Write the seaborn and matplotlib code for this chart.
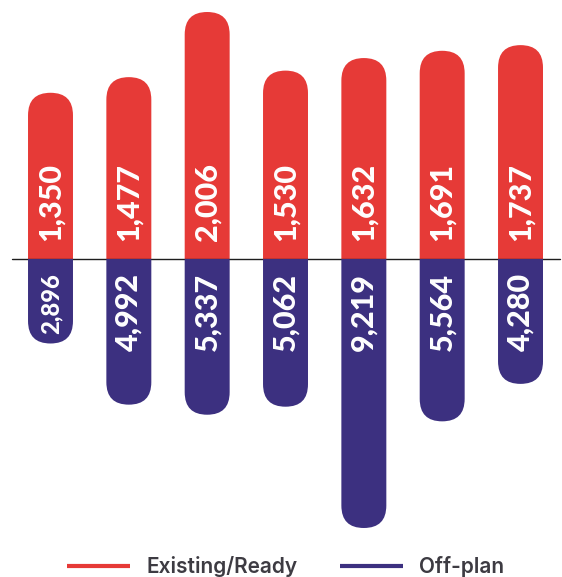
import matplotlib
matplotlib.use("Agg")
import matplotlib.pyplot as plt
import seaborn as sns
import pandas as pd
from matplotlib.patches import FancyBboxPatch
from matplotlib.lines import Line2D

# Transactions per period, split by property status
periods = ["P1", "P2", "P3", "P4", "P5", "P6", "P7"]
existing_ready = [1350, 1477, 2006, 1530, 1632, 1691, 1737]
off_plan = [2896, 4992, 5337, 5062, 9219, 5564, 4280]
series_names = ["Existing/Ready", "Off-plan"]

RED = "#E63A37"
PURPLE = "#3C3080"
TEXT = "#3D3B42"

sns.set_theme(style="white")
plt.rcParams["font.family"] = ["Lato", "DejaVu Sans"]

W, H = 562, 577
DPI = 100
fig = plt.figure(figsize=(W / DPI, H / DPI), dpi=DPI)


def px_box(left, top, right, bottom):
    return [left / W, 1 - bottom / H, (right - left) / W, (bottom - top) / H]


ax_top = fig.add_axes(px_box(12, 12, 560, 259))
ax_bot = fig.add_axes(px_box(12, 259, 560, 528))

bar_width = 0.574
panels = [
    (ax_top, existing_ready, RED, False),
    (ax_bot, off_plan, PURPLE, True),
]

for ax, values, color, downward in panels:
    df = pd.DataFrame({"period": periods, "value": values})
    sns.barplot(data=df, x="period", y="value", color=color, saturation=1,
                width=bar_width, ax=ax, errorbar=None)
    ax.set_xlim(-0.4915, 6.504)
    if downward:
        ax.set_ylim(max(values), 0)
    else:
        ax.set_ylim(0, max(values))
    ax.set_axis_off()


def y_px_per_unit(ax):
    p0 = ax.transData.transform((0, 0))
    p1 = ax.transData.transform((1, 1))
    return abs(p1[0] - p0[0]), abs(p1[1] - p0[1])


def round_bars(ax):
    """Swap each bar for a pill-shaped one with a semicircular free end."""
    px_x, px_y = y_px_per_unit(ax)
    aspect = px_x / px_y
    for bar in list(ax.patches):
        x, w, h = bar.get_x(), bar.get_width(), bar.get_height()
        r = w / 2
        ext = r * aspect
        pill = FancyBboxPatch(
            (x, -ext), w, h + ext,
            boxstyle=f"round,pad=0,rounding_size={r}",
            mutation_aspect=aspect,
            facecolor=bar.get_facecolor(), edgecolor="none", linewidth=0,
        )
        bar.remove()
        ax.add_patch(pill)


round_bars(ax_top)
round_bars(ax_bot)

renderer = fig.canvas.get_renderer()
label_size = 22
label_style = dict(rotation=90, rotation_mode="anchor", va="center", color="white",
                   fontsize=label_size, fontweight="black", textcoords="offset points")


def add_labels(ax, values, pad_pt, outward_sign, ha):
    _, px_y = y_px_per_unit(ax)
    for i, v in enumerate(values):
        t = ax.annotate(f"{v:,}", xy=(i, 0), xytext=(0, outward_sign * pad_pt),
                        ha=ha, **label_style)
        # shrink a label that would run past the rounded end of a short bar
        length = t.get_window_extent(renderer).height
        room = v * px_y - pad_pt * DPI / 72 - 10
        if length > room:
            t.set_fontsize(label_size * room / length)


add_labels(ax_top, existing_ready, 13, 1, "left")
add_labels(ax_bot, off_plan, 10, -1, "right")

# zero line between the two directions
ax_top.axhline(0, color="#1E1E1E", linewidth=1.0, clip_on=False, zorder=5)

handles = [
    Line2D([], [], color=RED, linewidth=3, solid_capstyle="butt"),
    Line2D([], [], color=PURPLE, linewidth=3, solid_capstyle="butt"),
]
fig.legend(handles, series_names, loc="lower left", bbox_to_anchor=(67 / W, 0.0),
           ncol=2, frameon=False, borderpad=0, borderaxespad=0,
           prop=dict(family=["Inter", "DejaVu Sans"], weight="semibold", size=15),
           labelcolor=TEXT, handlelength=3.0, handletextpad=0.8, columnspacing=2.05)

fig.savefig("out.png", dpi=DPI)
